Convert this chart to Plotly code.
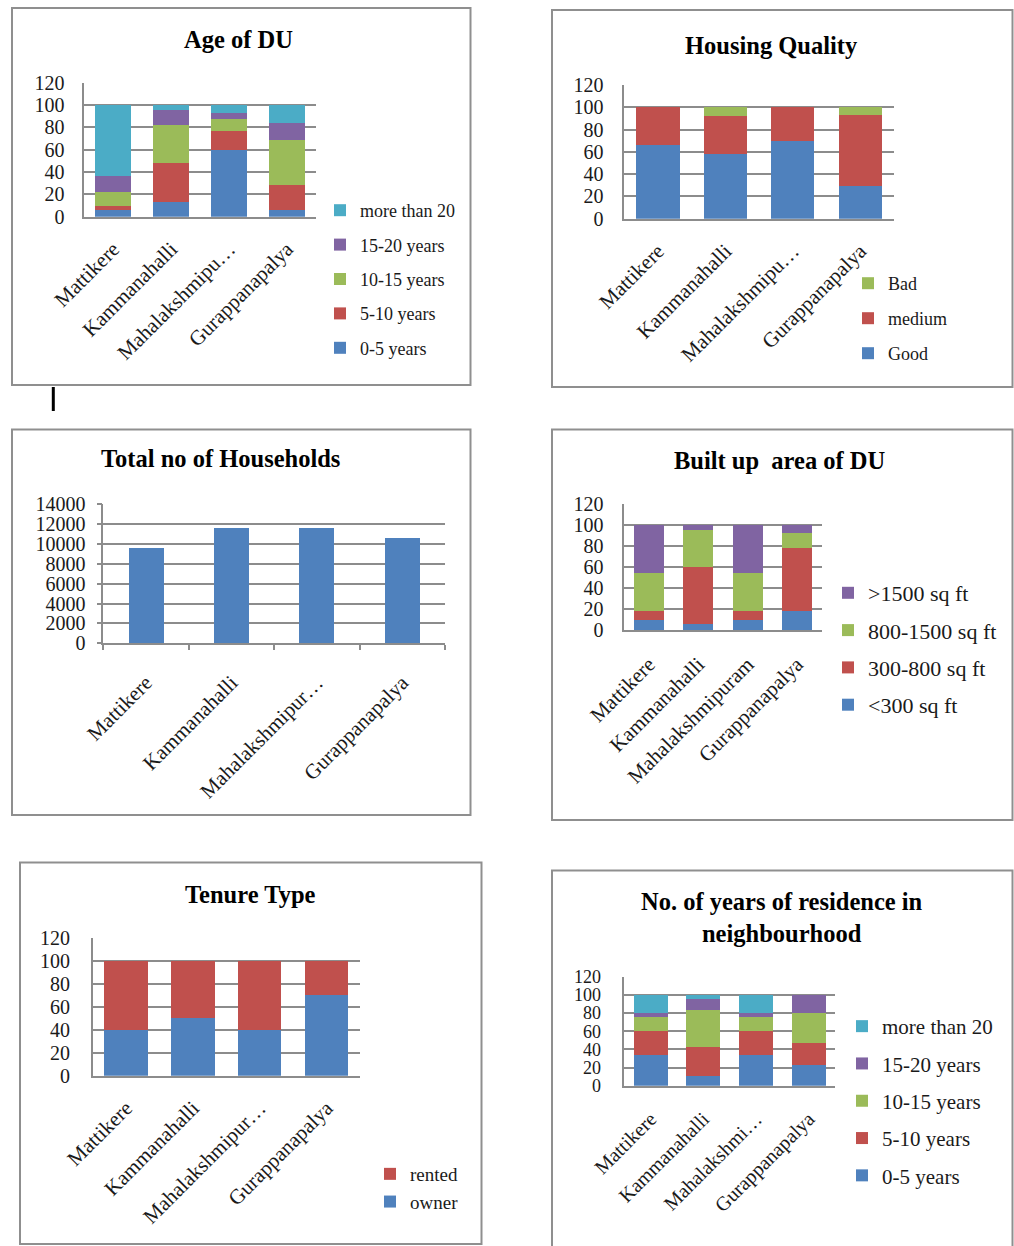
import plotly.graph_objects as go

W, H = 1014, 1246

# ---------------- data ----------------
categories = ["Mattikere", "Kammanahalli", "Mahalakshmipuram", "Gurappanapalya"]

ticks_age = ["Mattikere", "Kammanahalli", "Mahalakshmipu…", "Gurappanapalya"]
ticks_quality = ["Mattikere", "Kammanahalli", "Mahalakshmipu…", "Gurappanapalya"]
ticks_households = ["Mattikere", "Kammanahalli", "Mahalakshmipur…", "Gurappanapalya"]
ticks_builtup = ["Mattikere", "Kammanahalli", "Mahalakshmipuram", "Gurappanapalya"]
ticks_tenure = ["Mattikere", "Kammanahalli", "Mahalakshmipur…", "Gurappanapalya"]
ticks_residence = ["Mattikere", "Kammanahalli", "Mahalakshmi…", "Gurappanapalya"]

# Age of DU (%)
age_names = ["0-5 years", "5-10 years", "10-15 years", "15-20 years", "more than 20"]
age_0_5 = [6, 13, 60, 6]
age_5_10 = [4, 35, 17, 22]
age_10_15 = [12, 34, 10, 41]
age_15_20 = [14, 13, 6, 15]
age_20_plus = [64, 5, 7, 16]

# Housing quality (%)
quality_names = ["Good", "medium", "Bad"]
quality_good = [66, 58, 70, 29]
quality_medium = [34, 34, 30, 64]
quality_bad = [0, 8, 0, 7]

# Total number of households
households = [9600, 11600, 11600, 10600]

# Built up area of DU (%)
builtup_names = ["<300 sq ft", "300-800 sq ft", "800-1500 sq ft", ">1500 sq ft"]
builtup_lt300 = [10, 6, 10, 18]
builtup_300_800 = [8, 54, 8, 60]
builtup_800_1500 = [36, 35, 36, 15]
builtup_gt1500 = [46, 5, 46, 7]

# Tenure type (%)
tenure_names = ["owner", "rented"]
tenure_owner = [40, 50, 40, 70]
tenure_rented = [60, 50, 60, 30]

# Years of residence in neighbourhood (%)
res_names = ["0-5 years", "5-10 years", "10-15 years", "15-20 years", "more than 20"]
res_0_5 = [34, 11, 34, 23]
res_5_10 = [26, 32, 26, 24]
res_10_15 = [16, 40, 16, 33]
res_15_20 = [4, 13, 4, 20]
res_20_plus = [20, 4, 20, 0]

# ---------------- styling ----------------
BLUE, RED, GREEN, PURPLE, CYAN = "#4F81BD", "#C0504D", "#9BBB59", "#8064A2", "#4BACC6"
GRID = "#8c8c8c"
FONT = "Liberation Serif"


def xd(l, r):
    return [l / W, r / W]


def yd(t, b):
    return [1 - b / H, 1 - t / H]


fig = go.Figure()

panels = [
    dict(ax="", leg="legend", box=(84.3, 316, 82.5, 216.7), w=0.62),
    dict(ax="2", leg="legend2", box=(624.3, 894, 85, 218.7), w=0.64),
    dict(ax="3", leg=None, box=(103.3, 445, 504.3, 643.3), w=0.41),
    dict(ax="4", leg="legend3", box=(624.3, 821.7, 504.3, 630), w=0.61),
    dict(ax="5", leg="legend4", box=(92.7, 360, 937.7, 1075.7), w=0.65),
    dict(ax="6", leg="legend5", box=(624.3, 835, 976.7, 1085.7), w=0.645),
]

series = [
    (0, list(zip(age_names, [age_0_5, age_5_10, age_10_15, age_15_20, age_20_plus],
                 [BLUE, RED, GREEN, PURPLE, CYAN]))),
    (1, list(zip(quality_names, [quality_good, quality_medium, quality_bad], [BLUE, RED, GREEN]))),
    (2, [("Total no of Households", households, BLUE)]),
    (3, list(zip(builtup_names, [builtup_lt300, builtup_300_800, builtup_800_1500, builtup_gt1500],
                 [BLUE, RED, GREEN, PURPLE]))),
    (4, list(zip(tenure_names, [tenure_owner, tenure_rented], [BLUE, RED]))),
    (5, list(zip(res_names, [res_0_5, res_5_10, res_10_15, res_15_20, res_20_plus],
                 [BLUE, RED, GREEN, PURPLE, CYAN]))),
]

for pi, items in series:
    p = panels[pi]
    for j, (name, vals, col) in enumerate(items):
        fig.add_trace(go.Bar(
            x=categories, y=vals, name=name,
            marker=dict(color=col, line=dict(width=0)),
            width=p["w"],
            xaxis="x" + p["ax"], yaxis="y" + p["ax"],
            legend=p["leg"] if p["leg"] else "legend",
            legendgroup=f"p{pi}_{name}",
            legendrank=100 - j,
            showlegend=p["leg"] is not None,
        ))

tick_lists = [ticks_age, ticks_quality, ticks_households, ticks_builtup, ticks_tenure, ticks_residence]
ytick_sizes = [20, 20, 20, 20, 20, 18]
xtick_sizes = [21, 21, 21, 21, 21, 20]
x_standoff = [10, 10, 17, 12, 10, 12]
y_standoff = [14, 15, 7, 15, 17, 18]

layout = dict(
    width=W, height=H, margin=dict(l=0, r=0, t=0, b=0, pad=0, autoexpand=False),
    paper_bgcolor="white", plot_bgcolor="white",
    barmode="stack", font=dict(family=FONT, color="#1a1a1a"),
)

for i, p in enumerate(panels):
    l, r, t, b = p["box"]
    hh = (i == 2)
    layout["xaxis" + p["ax"]] = dict(
        domain=xd(l, r), anchor="y" + p["ax"], type="category",
        categoryorder="array", categoryarray=categories,
        tickvals=categories, ticktext=tick_lists[i], tickangle=-45,
        tickfont=dict(size=xtick_sizes[i], family=FONT, color="#1a1a1a"),
        showline=True, linecolor=GRID, linewidth=1.5, showgrid=False,
        ticks="outside" if hh else "", tickson="boundaries" if hh else "labels",
        ticklen=5, tickcolor=GRID, tickwidth=1.5,
        range=[-0.5, 3.5], fixedrange=True, ticklabelstandoff=x_standoff[i], automargin=False,
    )
    layout["yaxis" + p["ax"]] = dict(
        domain=yd(t, b), anchor="x" + p["ax"],
        range=[0, 14000] if hh else [0, 120], dtick=2000 if hh else 20,
        tickformat="d",
        tickfont=dict(size=ytick_sizes[i], family=FONT, color="#1a1a1a"),
        showline=True, linecolor=GRID, linewidth=1.5,
        showgrid=True, gridcolor=GRID, gridwidth=1.5, zeroline=False,
        ticks="outside" if hh else "", ticklen=5, tickcolor=GRID, tickwidth=1.5,
        ticklabelstandoff=y_standoff[i], fixedrange=True, automargin=False,
    )


def leg(text_x, top_y, size, gap):
    return dict(
        x=(text_x - 40) / W, y=1 - top_y / H, xanchor="left", yanchor="top",
        font=dict(size=size, family=FONT, color="#1a1a1a"),
        traceorder="grouped", tracegroupgap=gap,
        bgcolor="rgba(0,0,0,0)", itemwidth=30,
    )


layout["legend"] = leg(360, 209 - 17, 18, 8)
layout["legend2"] = leg(888, 282 - 17, 18, 8.6)
layout["legend3"] = leg(868, 593 - 21, 22, 5.7)
layout["legend4"] = leg(410, 1174 - 19, 19, 0)
layout["legend5"] = leg(882, 1027 - 21, 21, 7)

fig.update_layout(**layout)

borders = [(12, 470.5, 8, 385), (552, 1012.5, 10, 387), (12, 470.5, 429.5, 815),
           (552, 1012.5, 429.5, 820), (20, 481.5, 862.5, 1244), (552, 1012.5, 870.5, 1260)]
for (l, r, t, b) in borders:
    fig.add_shape(type="rect", xref="paper", yref="paper",
                  x0=l / W, x1=r / W, y0=1 - b / H, y1=1 - t / H,
                  line=dict(color="#8f8f8f", width=2), fillcolor="rgba(0,0,0,0)", layer="below")

fig.add_shape(type="line", xref="paper", yref="paper",
              x0=53.3 / W, x1=53.3 / W, y0=1 - 411 / H, y1=1 - 387 / H,
              line=dict(color="black", width=3))

titles = [
    ("Age of DU", 238, 39),
    ("Housing Quality", 771.5, 45),
    ("Total no of Households", 220, 458),
    ("Built up  area of DU", 780, 461),
    ("Tenure Type", 250, 894),
    ("No. of years of residence in<br>neighbourhood", 781.5, 917),
]
for text, x, y in titles:
    fig.add_annotation(text=f"<b>{text}</b>", xref="paper", yref="paper",
                       x=x / W, y=1 - y / H, xanchor="center", yanchor="middle",
                       showarrow=False, font=dict(size=24.5, family=FONT, color="black"))

fig.write_html("out.html", config={"displayModeBar": False},
               post_script="document.body.style.margin='0';document.body.style.overflow='hidden';")
